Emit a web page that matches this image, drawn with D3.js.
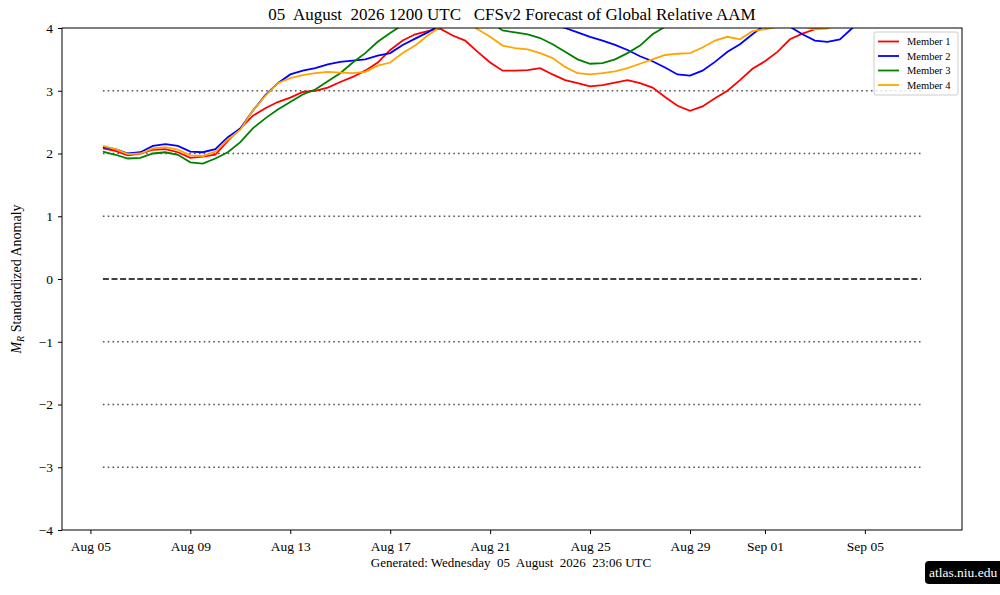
<html>
<head>
<meta charset="utf-8">
<script src="https://d3js.org/d3.v7.min.js"></script>
<style type="text/css">
  body { margin: 0; background-color: white; }
  text { font-family: "Liberation Serif", "DejaVu Serif", serif; fill: black; }
  .axis path, .axis line { stroke: black; }
</style>
</head>
<body>
<div id="graph"></div>

<script>
  // chart texts
  const title = '05  August  2026 1200 UTC   CFSv2 Forecast of Global Relative AAM';
  const footer = 'Generated: Wednesday  05  August  2026  23:06 UTC';
  const badge = 'atlas.niu.edu';

  // forecast time axis: 12-hourly from the initial time
  const startTime = '2026-08-05T12:00:00Z';
  const endTime = '2026-09-07T06:00:00Z';
  const stepHours = 12;

  // standardized anomaly, one value per 12 h (values above 4 are off the top)
  const member1 = [2.08, 2.04, 1.97, 2.00, 2.06, 2.07, 2.02, 1.93, 1.95, 1.98,
    2.20, 2.40, 2.60, 2.72, 2.82, 2.89, 2.98, 3.00, 3.05, 3.14,
    3.22, 3.32, 3.45, 3.65, 3.80, 3.90, 3.95, 3.99, 3.88, 3.80,
    3.62, 3.45, 3.32, 3.32, 3.33, 3.36, 3.26, 3.17, 3.12, 3.07,
    3.09, 3.13, 3.17, 3.12, 3.05, 2.90, 2.76, 2.68, 2.75, 2.88,
    3.00, 3.17, 3.35, 3.47, 3.62, 3.82, 3.91, 3.98, 4.05, 4.20,
    4.30, 4.40, 4.50, 4.55, 4.60, 4.65];
  const member2 = [2.10, 2.07, 2.00, 2.02, 2.12, 2.15, 2.12, 2.03, 2.02, 2.07,
    2.26, 2.40, 2.68, 2.93, 3.12, 3.26, 3.32, 3.36, 3.42, 3.46,
    3.48, 3.50, 3.56, 3.60, 3.73, 3.83, 3.93, 4.05, 4.15, 4.25,
    4.30, 4.30, 4.30, 4.25, 4.20, 4.10, 4.05, 4.00, 3.93, 3.86,
    3.80, 3.73, 3.65, 3.55, 3.47, 3.37, 3.26, 3.24, 3.32, 3.46,
    3.62, 3.74, 3.90, 4.05, 4.10, 4.02, 3.90, 3.80, 3.78, 3.82,
    4.00, 4.15, 4.30, 4.40, 4.50, 4.60];
  const member3 = [2.03, 1.98, 1.92, 1.93, 2.00, 2.02, 1.98, 1.86, 1.84, 1.92,
    2.02, 2.18, 2.40, 2.56, 2.70, 2.82, 2.94, 3.02, 3.15, 3.28,
    3.45, 3.60, 3.78, 3.92, 4.05, 4.20, 4.30, 4.40, 4.40, 4.35,
    4.25, 4.10, 3.96, 3.93, 3.90, 3.84, 3.74, 3.62, 3.50, 3.43,
    3.44, 3.50, 3.60, 3.72, 3.90, 4.02, 4.10, 4.20, 4.30, 4.40,
    4.50, 4.55, 4.60, 4.65, 4.70, 4.70, 4.75, 4.80, 4.80, 4.85,
    4.90, 4.90, 4.95, 5.00, 5.00, 5.00];
  const member4 = [2.12, 2.07, 1.99, 2.00, 2.08, 2.10, 2.06, 1.97, 1.96, 2.03,
    2.22, 2.38, 2.68, 2.92, 3.12, 3.20, 3.25, 3.28, 3.30, 3.29,
    3.28, 3.30, 3.40, 3.45, 3.60, 3.72, 3.88, 4.02, 4.15, 4.10,
    3.98, 3.86, 3.72, 3.68, 3.66, 3.60, 3.52, 3.38, 3.28, 3.26,
    3.28, 3.31, 3.36, 3.43, 3.50, 3.57, 3.59, 3.60, 3.69, 3.80,
    3.86, 3.82, 3.95, 3.98, 4.02, 4.05, 4.03, 3.98, 3.99, 4.10,
    4.20, 4.30, 4.35, 4.40, 4.45, 4.50];

  const memberNames = ['Member 1', 'Member 2', 'Member 3', 'Member 4'];
  const memberColors = ['red', 'blue', 'green', 'orange'];

  const xTickDates = ['2026-08-05', '2026-08-09', '2026-08-13', '2026-08-17', '2026-08-21',
    '2026-08-25', '2026-08-29', '2026-09-01', '2026-09-05'];
  const xTickLabels = ['Aug 05', 'Aug 09', 'Aug 13', 'Aug 17', 'Aug 21',
    'Aug 25', 'Aug 29', 'Sep 01', 'Sep 05'];
  const yTicks = [-4, -3, -2, -1, 0, 1, 2, 3, 4];
  const dottedLevels = [-3, -2, -1, 1, 2, 3];

  // set the dimensions and margins of the graph
  var margin = {top: 28, right: 38, bottom: 65, left: 62},
    width = 1000 - margin.left - margin.right,
    height = 595 - margin.top - margin.bottom;

  var root = d3.select('#graph')
    .append('svg')
    .attr('width', 1000)
    .attr('height', 595);

  var svg = root.append('g')
    .attr('transform', 'translate(' + margin.left + ',' + margin.top + ')');

  var t0 = new Date(startTime), t1 = new Date(endTime);
  var pad = (t1 - t0) * 0.05;
  var dates = member1.map(function (d, i) { return d3.utcHour.offset(t0, i * stepHours); });

  var x = d3.scaleUtc()
    .domain([new Date(+t0 - pad), new Date(+t1 + pad)])
    .range([0, width]);
  var y = d3.scaleLinear()
    .domain([-4, 4])
    .range([height, 0]);

  svg.append('defs').append('clipPath').attr('id', 'clip')
    .append('rect').attr('width', width).attr('height', height);

  // reference lines
  svg.append('g').selectAll('line')
    .data(dottedLevels)
    .enter().append('line')
    .attr('x1', x(t0)).attr('x2', x(t1))
    .attr('y1', function (d) { return y(d); })
    .attr('y2', function (d) { return y(d); })
    .style('stroke', '#555')
    .style('stroke-width', 1.6)
    .style('stroke-dasharray', '1.6,3.2');

  svg.append('line')
    .attr('x1', x(t0)).attr('x2', x(t1))
    .attr('y1', y(0)).attr('y2', y(0))
    .style('stroke', 'black')
    .style('stroke-width', 1.6)
    .style('stroke-dasharray', '6,2.6');

  // member lines
  var line = d3.line()
    .x(function (d, i) { return x(dates[i]); })
    .y(function (d) { return y(d); });

  svg.append('g').attr('clip-path', 'url(#clip)')
    .selectAll('path')
    .data([member1, member2, member3, member4])
    .enter().append('path')
    .attr('d', line)
    .style('fill', 'none')
    .style('stroke-width', 1.8)
    .style('stroke', function (d, i) { return memberColors[i]; });

  // axes
  var xAxis = svg.append('g')
    .attr('class', 'axis')
    .attr('transform', 'translate(0,' + height + ')')
    .call(d3.axisBottom(x)
      .tickValues(xTickDates.map(function (d) { return new Date(d + 'T00:00:00Z'); }))
      .tickFormat(function (d, i) { return xTickLabels[i]; })
      .tickSize(4).tickPadding(7));
  xAxis.select('.domain').remove();
  xAxis.selectAll('text').style('font-size', '13.5px').style('font-family', '"Liberation Serif", serif');

  var yAxis = svg.append('g')
    .attr('class', 'axis')
    .call(d3.axisLeft(y)
      .tickValues(yTicks)
      .tickFormat(function (d) { return d < 0 ? '\u2212' + Math.abs(d) : String(d); })
      .tickSize(4).tickPadding(5));
  yAxis.select('.domain').remove();
  yAxis.selectAll('text').style('font-size', '13.5px').style('font-family', '"Liberation Serif", serif');

  svg.append('rect')
    .attr('width', width).attr('height', height)
    .style('fill', 'none').style('stroke', 'black').style('stroke-width', 1);

  // y label
  var ylab = root.append('text')
    .attr('transform', 'translate(21,' + (margin.top + height / 2) + ') rotate(-90)')
    .attr('text-anchor', 'middle')
    .style('font-size', '14px');
  ylab.append('tspan').style('font-style', 'italic').text('M');
  ylab.append('tspan').attr('dy', 3).style('font-size', '10px').style('font-style', 'italic').text('R');
  ylab.append('tspan').attr('dy', -3).text(' Standardized Anomaly');

  // title and footer
  root.append('text')
    .attr('x', margin.left + width / 2).attr('y', 20)
    .attr('text-anchor', 'middle')
    .style('font-size', '17px')
    .style('white-space', 'pre')
    .text(title);

  root.append('text')
    .attr('x', 511).attr('y', 567)
    .attr('text-anchor', 'middle')
    .style('font-size', '13px')
    .style('white-space', 'pre')
    .text(footer);

  // legend
  var lg = root.append('g').attr('transform', 'translate(874,32)');
  lg.append('rect')
    .attr('width', 84).attr('height', 63).attr('rx', 2)
    .style('fill', 'white').style('fill-opacity', 0.8)
    .style('stroke', '#ccc');
  memberNames.forEach(function (name, i) {
    var yy = 9.5 + i * 14.5;
    lg.append('line')
      .attr('x1', 4).attr('x2', 25).attr('y1', yy).attr('y2', yy)
      .style('stroke', memberColors[i]).style('stroke-width', 1.8);
    lg.append('text')
      .attr('x', 33).attr('y', yy + 3.5)
      .style('font-size', '10.5px')
      .text(name);
  });

  // badge
  root.append('rect')
    .attr('x', 925).attr('y', 561).attr('width', 85).attr('height', 23).attr('rx', 4)
    .style('fill', 'black');
  root.append('text')
    .attr('x', 929).attr('y', 577)
    .style('font-size', '13.5px').style('fill', 'white')
    .text(badge);
</script>
</body>
</html>
